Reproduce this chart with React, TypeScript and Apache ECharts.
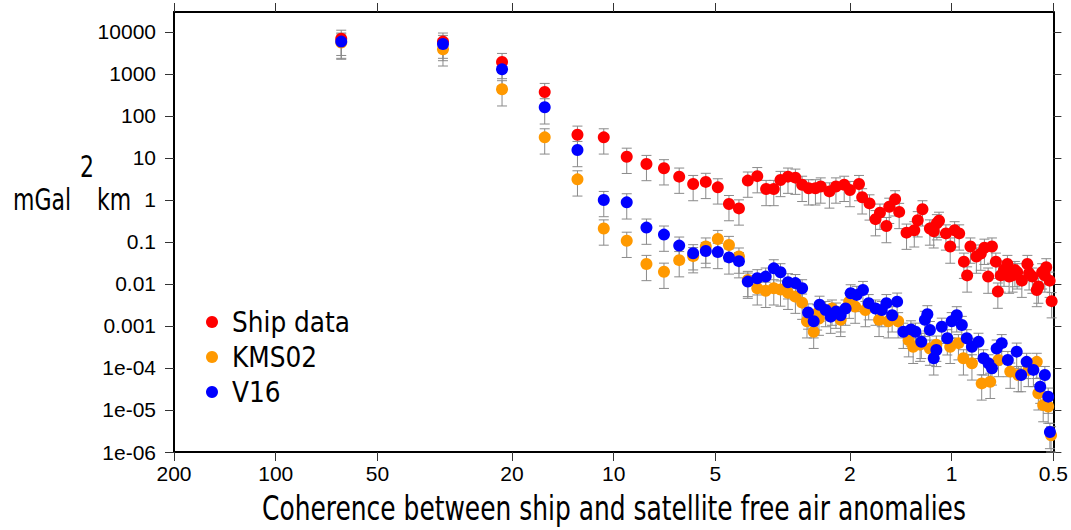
import { useEffect, useRef } from "react";
import * as echarts from "echarts";

// ---- data (wavelength in km, power in mGal^2 km) ----
const shipWavelength = [
  64, 32, 21.4, 16, 12.8, 10.7, 9.15, 8.0, 7.1, 6.4, 5.82, 5.34, 4.92, 4.56, 4.26,
  4.01, 3.76, 3.54, 3.36, 3.21, 3.05, 2.9, 2.77, 2.65, 2.53, 2.44, 2.3, 2.2, 2.08,
  2.0, 1.88, 1.84, 1.75, 1.68, 1.63, 1.56, 1.53, 1.47, 1.43, 1.36, 1.29, 1.26, 1.22,
  1.16, 1.13, 1.106, 1.09, 1.04, 1.01, 0.98, 0.95, 0.92, 0.9, 0.88, 0.845, 0.82, 0.8,
  0.78, 0.76, 0.74, 0.73, 0.716, 0.7, 0.684, 0.676, 0.66, 0.65, 0.64, 0.62, 0.597,
  0.59, 0.577, 0.56, 0.554, 0.54, 0.53, 0.525, 0.513, 0.506,
];
const shipPower = [
  6900, 5900, 1930, 373, 35.9, 31, 10.7, 7.2, 5.7, 3.6, 2.4, 2.7, 2.0, 0.8, 0.63,
  2.9, 3.7, 1.83, 1.83, 3.0, 3.6, 3.4, 2.3, 1.9, 1.9, 2.1, 1.6, 2.1, 2.3,
  1.73, 2.4, 1.16, 0.83, 0.35, 0.5, 0.24, 0.69, 1.04, 0.52, 0.167, 0.19, 0.33, 0.6,
  0.21, 0.18, 0.28, 0.32, 0.16, 0.078, 0.19, 0.16, 0.034, 0.016, 0.078, 0.045, 0.053, 0.073,
  0.015, 0.078, 0.034, 0.0066, 0.016, 0.022, 0.03, 0.015, 0.016, 0.0215, 0.019, 0.012, 0.03,
  0.018, 0.015, 0.0072, 0.0087, 0.019, 0.016, 0.025, 0.012, 0.0039,
];

const kmsWavelength = [
  64, 32, 21.4, 16, 12.8, 10.7, 9.15, 8.0, 7.1, 6.4, 5.82, 5.34, 4.92, 4.56, 4.26,
  4.01, 3.76, 3.55, 3.36, 3.21, 3.05, 2.9, 2.77, 2.68, 2.56, 2.5, 2.47, 2.26, 2.13,
  2.01, 1.93, 1.8, 1.64, 1.54, 1.44, 1.34, 1.3, 1.24, 1.16, 1.11, 1.01, 0.955, 0.923,
  0.871, 0.815, 0.769, 0.727, 0.671, 0.635, 0.593, 0.56, 0.554, 0.536, 0.518, 0.508,
];
const kmsPower = [
  5600, 3870, 433, 31, 3.1, 0.21, 0.107, 0.03, 0.0196, 0.037, 0.046, 0.078, 0.118, 0.085, 0.045,
  0.0125, 0.0079, 0.0069, 0.0079, 0.0074, 0.0062, 0.005, 0.0036, 0.0013, 0.00073, 0.002, 0.0015, 0.0026, 0.0014,
  0.0038, 0.0029, 0.0024, 0.0014, 0.0013, 0.0013, 0.00046, 0.00032, 0.00036, 0.00029, 0.00036, 0.00032, 0.00039, 0.00017,
  0.000129, 0.000043, 0.000047, 0.000155, 0.000082, 0.000068, 0.00009, 0.00014, 0.000025, 0.0000131, 0.0000121, 0.0000025,
];

const v16Wavelength = [
  64, 32, 21.4, 16, 12.8, 10.7, 9.15, 8.0, 7.1, 6.4, 5.82, 5.34, 4.92, 4.56, 4.26,
  4.01, 3.76, 3.55, 3.36, 3.21, 3.05, 2.9, 2.77, 2.66, 2.56, 2.46, 2.36, 2.28, 2.2,
  2.13, 2.06, 1.99, 1.91, 1.83, 1.76, 1.68, 1.61, 1.56, 1.5, 1.45, 1.39, 1.32, 1.28,
  1.23, 1.2, 1.18, 1.16, 1.13, 1.11, 1.07, 1.03, 1.0, 0.966, 0.933, 0.902, 0.871, 0.833,
  0.805, 0.778, 0.76, 0.736, 0.711, 0.682, 0.642, 0.623, 0.6, 0.573, 0.547, 0.53, 0.518, 0.512,
];
const v16Power = [
  5900, 5180, 1290, 161, 15.5, 1.0, 0.88, 0.22, 0.15, 0.082, 0.054, 0.061, 0.058, 0.043, 0.035,
  0.0114, 0.0137, 0.015, 0.0236, 0.019, 0.011, 0.0105, 0.0079, 0.0021, 0.0013, 0.0032, 0.0024, 0.00167, 0.0022,
  0.0018, 0.0026, 0.006, 0.0055, 0.0072, 0.0035, 0.0026, 0.0024, 0.0035, 0.0018, 0.0038, 0.00073, 0.00083, 0.00073,
  0.00042, 0.0014, 0.0019, 0.0008, 0.00017, 0.00027, 0.00096, 0.00051, 0.0013, 0.0018, 0.00106, 0.00051, 0.00032, 0.00042,
  0.00017, 0.000129, 0.000098, 0.00029, 0.00039, 0.000155, 0.000245, 0.000068, 0.00014, 0.00009, 0.000036, 0.000068, 0.0000208, 0.000003,
];

// error bars read as roughly +/-60% of each value
const relativeError = 0.6;

const xTickValues = [200, 100, 50, 20, 10, 5, 2, 1, 0.5];
const xTickLabels = ["200", "100", "50", "20", "10", "5", "2", "1", "0.5"];
const yTickValues = [1e-6, 1e-5, 1e-4, 1e-3, 1e-2, 1e-1, 1, 10, 100, 1000, 10000];
const yTickLabels = ["1e-06", "1e-05", "1e-04", "0.001", "0.01", "0.1", "1", "10", "100", "1000", "10000"];

const seriesNames = ["Ship data", "KMS02", "V16"];
const seriesColors = ["#ff0000", "#ff9900", "#0000ff"];

const xTitle = "Coherence between ship and satellite free air anomalies";

const NARROW = "'Liberation Sans Narrow', 'DejaVu Sans Condensed', 'DejaVu Sans', sans-serif";
const SANS = "'Liberation Sans', Arial, Helvetica, sans-serif";

const lg = (v: number) => Math.log10(v);

function measure(text: string, size: number, family: string) {
  const ctx = document.createElement("canvas").getContext("2d");
  if (!ctx) return text.length * size * 0.5;
  ctx.font = `${size}px ${family}`;
  return ctx.measureText(text).width;
}

function labelFor(v: number, vals: number[], labels: string[]) {
  for (let i = 0; i < vals.length; i++) {
    if (Math.abs(lg(vals[i]) - v) < 1e-6) return labels[i];
  }
  return "";
}

function errorSeries(xs: number[], ys: number[]) {
  return {
    type: "custom",
    silent: true,
    z: 1,
    xAxisIndex: 0,
    yAxisIndex: 0,
    encode: { x: 0, y: [1, 2] },
    data: xs.map((w, i) => [lg(w), lg(ys[i] * (1 - relativeError)), lg(ys[i] * (1 + relativeError))]),
    renderItem: (_params: any, api: any) => {
      const top = api.coord([api.value(0), api.value(2)]);
      const bot = api.coord([api.value(0), api.value(1)]);
      const hw = 5;
      const style = { stroke: "#8a8a8a", lineWidth: 1 };
      return {
        type: "group",
        children: [
          { type: "line", shape: { x1: top[0], y1: top[1], x2: bot[0], y2: bot[1] }, style },
          { type: "line", shape: { x1: top[0] - hw, y1: top[1], x2: top[0] + hw, y2: top[1] }, style },
          { type: "line", shape: { x1: bot[0] - hw, y1: bot[1], x2: bot[0] + hw, y2: bot[1] }, style },
        ],
      };
    },
  };
}

function pointSeries(name: string, color: string, xs: number[], ys: number[], z: number) {
  return {
    type: "scatter",
    name,
    z,
    symbol: "circle",
    symbolSize: 12,
    itemStyle: { color, opacity: 1 },
    data: xs.map((w, i) => [lg(w), lg(ys[i])]),
  };
}

export default function App() {
  const ref = useRef<HTMLDivElement>(null);

  useEffect(() => {
    document.body.style.margin = "0";
    if (!ref.current) return;
    const chart = echarts.init(ref.current, undefined, { renderer: "svg" });

    const axisLine = { show: true, onZero: false, lineStyle: { color: "#000", width: 2 } };
    const tickStyle = { color: "#333", width: 1 };
    const xCustom = xTickValues.map(lg);
    const yCustom = yTickValues.map(lg);

    // condensed-text fitting (reference uses a condensed face)
    const titleSize = 34;
    const titleScale = 704 / measure(xTitle, titleSize, NARROW);
    const ySize = 30;
    const yScale = 58 / measure("mGal", ySize, NARROW);
    const legendSize = Math.min(34, (32 * 118) / measure("Ship data", 32, NARROW));

    const xBase = {
      type: "value",
      min: lg(0.5),
      max: lg(200),
      inverse: true,
      splitLine: { show: false },
      axisLine,
    };
    const yBase = {
      type: "value",
      min: -6,
      max: 4.476,
      splitLine: { show: false },
      axisLine,
    };

    chart.setOption({
      animation: false,
      backgroundColor: "#fff",
      grid: { left: 174, top: 12, right: 15, bottom: 78, containLabel: false },
      xAxis: [
        {
          ...xBase,
          position: "bottom",
          axisTick: { show: true, length: 9, customValues: xCustom, lineStyle: tickStyle },
          axisLabel: {
            show: true,
            customValues: xCustom,
            showMinLabel: true,
            showMaxLabel: true,
            formatter: (v: number) => labelFor(v, xTickValues, xTickLabels),
            fontSize: 21,
            fontFamily: SANS,
            color: "#000",
            margin: 11,
          },
        },
        {
          ...xBase,
          position: "top",
          axisTick: { show: true, length: 9, customValues: xCustom, lineStyle: tickStyle },
          axisLabel: { show: false },
        },
      ],
      yAxis: [
        {
          ...yBase,
          position: "left",
          axisTick: { show: true, length: 9, customValues: yCustom, lineStyle: tickStyle },
          axisLabel: {
            show: true,
            customValues: yCustom,
            showMinLabel: true,
            showMaxLabel: true,
            formatter: (v: number) => labelFor(v, yTickValues, yTickLabels),
            fontSize: 21,
            fontFamily: SANS,
            color: "#000",
            margin: 18,
          },
        },
        {
          ...yBase,
          position: "right",
          axisTick: { show: true, length: 8, customValues: yCustom, lineStyle: tickStyle },
          axisLabel: { show: false },
        },
      ],
      legend: {
        orient: "vertical",
        left: 206,
        top: 322 - 15,
        padding: 0,
        itemWidth: 12,
        itemHeight: 12,
        itemGap: 5,
        icon: "circle",
        selectedMode: false,
        data: seriesNames,
        textStyle: {
          fontSize: legendSize,
          fontFamily: NARROW,
          color: "#000",
          lineHeight: 30,
          height: 30,
          padding: [0, 0, 0, 9],
        },
      },
      graphic: [
        {
          type: "text",
          x: 614,
          y: 508,
          scaleX: titleScale,
          style: { x: 0, y: 0, text: xTitle, fontSize: titleSize, fontFamily: NARROW, fill: "#000", align: "center", verticalAlign: "middle" },
        },
        {
          type: "text",
          x: 13,
          y: 200,
          scaleX: yScale,
          style: { x: 0, y: 0, text: "mGal", fontSize: ySize, fontFamily: NARROW, fill: "#000", verticalAlign: "middle" },
        },
        {
          type: "text",
          x: 97,
          y: 200,
          scaleX: yScale,
          style: { x: 0, y: 0, text: "km", fontSize: ySize, fontFamily: NARROW, fill: "#000", verticalAlign: "middle" },
        },
        {
          type: "text",
          x: 80,
          y: 167,
          scaleX: yScale,
          style: { x: 0, y: 0, text: "2", fontSize: ySize, fontFamily: NARROW, fill: "#000", verticalAlign: "middle" },
        },
      ],
      series: [
        errorSeries(shipWavelength, shipPower),
        errorSeries(kmsWavelength, kmsPower),
        errorSeries(v16Wavelength, v16Power),
        pointSeries(seriesNames[0], seriesColors[0], shipWavelength, shipPower, 3),
        pointSeries(seriesNames[1], seriesColors[1], kmsWavelength, kmsPower, 4),
        pointSeries(seriesNames[2], seriesColors[2], v16Wavelength, v16Power, 5),
      ],
    });

    return () => chart.dispose();
  }, []);

  return <div ref={ref} style={{ width: 1071, height: 530 }} />;
}
